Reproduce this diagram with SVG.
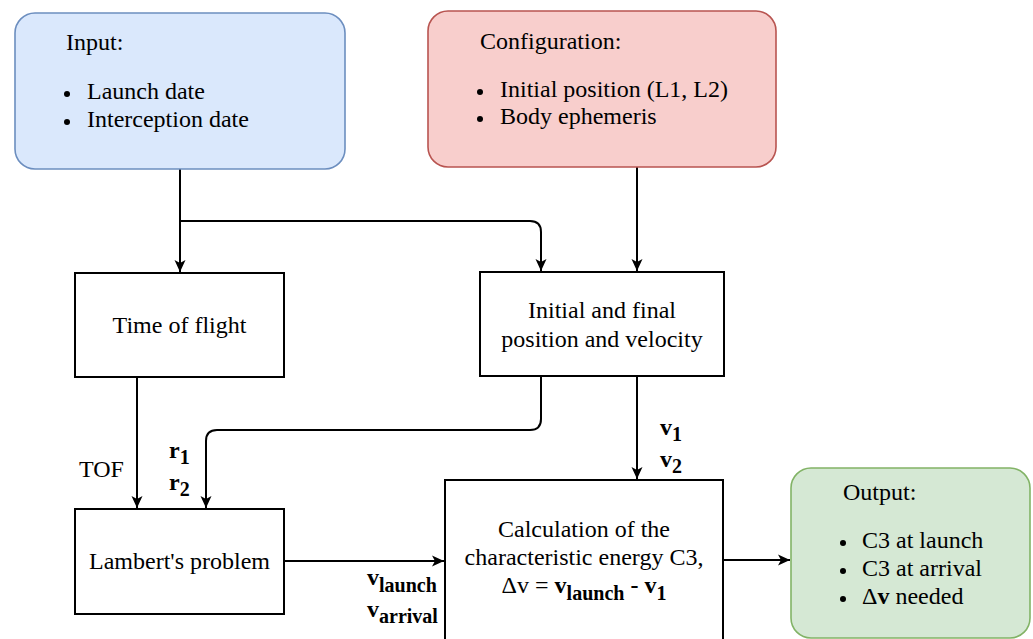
<svg xmlns="http://www.w3.org/2000/svg" width="1033" height="639" viewBox="0 0 1033 639">
<defs>
<style>
text{font-family:"Liberation Serif","Times New Roman",serif;font-size:24px;fill:#000}
.b{font-weight:bold}
.s{font-size:20px;font-weight:bold}
.box{fill:#fff;stroke:#000;stroke-width:2}
.conn{fill:none;stroke:#000;stroke-width:2}
.c{text-anchor:middle}
</style>
<marker id="arr" markerUnits="userSpaceOnUse" markerWidth="14" markerHeight="14" viewBox="0 0 14 14" refX="13" refY="7" orient="auto">
<path d="M1,1.5 L13,7 L1,12.5 L4,7 Z" fill="#000"/>
</marker>
</defs>
<rect width="1033" height="639" fill="#fff"/>

<g id="connectors">
<path class="conn" d="M180,169 V272" marker-end="url(#arr)"/>
<path class="conn" d="M180,221 H530 Q541,221 541,232 V271" marker-end="url(#arr)"/>
<path class="conn" d="M637,167 V271" marker-end="url(#arr)"/>
<path class="conn" d="M137,377 V508" marker-end="url(#arr)"/>
<path class="conn" d="M541,377 V419 Q541,430 530,430 H217 Q206,430 206,441 V508" marker-end="url(#arr)"/>
<path class="conn" d="M637,377 V479" marker-end="url(#arr)"/>
<path class="conn" d="M284,561 H444" marker-end="url(#arr)"/>
<path class="conn" d="M723,560 H790" marker-end="url(#arr)"/>
</g>

<g id="labels">
<text x="79" y="477">TOF</text>
<text x="169" y="458" class="b">r<tspan class="s" dy="6">1</tspan></text>
<text x="169" y="490" class="b">r<tspan class="s" dy="6">2</tspan></text>
<text x="660" y="435" class="b">v<tspan class="s" dy="6">1</tspan></text>
<text x="660" y="467" class="b">v<tspan class="s" dy="6">2</tspan></text>
<text x="367" y="585" class="b">v<tspan class="s" dy="7">launch</tspan></text>
<text x="367" y="617" class="b">v<tspan class="s" dy="6">arrival</tspan></text>
</g>

<g id="input">
<rect x="15" y="13" width="330" height="156" rx="20" fill="#dae8fc" stroke="#6c8ebf" stroke-width="1.6"/>
<text x="66" y="50">Input:</text>
<circle cx="67" cy="94" r="3"/>
<text x="87" y="99">Launch date</text>
<circle cx="67" cy="122" r="3"/>
<text x="87" y="127">Interception date</text>
</g>

<g id="configuration">
<rect x="428" y="11" width="348" height="156" rx="20" fill="#f8cecc" stroke="#b85450" stroke-width="1.6"/>
<text x="480" y="49">Configuration:</text>
<circle cx="480" cy="92" r="3"/>
<text x="500" y="97">Initial position (L1, L2)</text>
<circle cx="480" cy="119" r="3"/>
<text x="500" y="124">Body ephemeris</text>
</g>

<g id="time-of-flight">
<rect class="box" x="75" y="273" width="209" height="104"/>
<text class="c" x="179.5" y="333">Time of flight</text>
</g>

<g id="initial-final">
<rect class="box" x="480" y="272" width="244" height="104"/>
<text class="c" x="602" y="318">Initial and final</text>
<text class="c" x="602" y="347">position and velocity</text>
</g>

<g id="lambert">
<rect class="box" x="75" y="509" width="209" height="105"/>
<text class="c" x="179.5" y="569">Lambert's problem</text>
</g>

<g id="calculation">
<rect class="box" x="445" y="480" width="278" height="200"/>
<text class="c" x="584" y="537">Calculation of the</text>
<text class="c" x="584" y="565">characteristic energy C3,</text>
<text class="c" x="584" y="593">Δv = <tspan class="b">v</tspan><tspan class="s" dy="7">launch</tspan><tspan class="b" dy="-7"> - v</tspan><tspan class="s" dy="7">1</tspan></text>
</g>

<g id="output">
<rect x="791" y="468" width="239" height="170" rx="20" fill="#d5e8d4" stroke="#82b366" stroke-width="1.6"/>
<text x="843" y="500">Output:</text>
<circle cx="843" cy="543" r="3"/>
<text x="862" y="548">C3 at launch</text>
<circle cx="843" cy="571" r="3"/>
<text x="862" y="576">C3 at arrival</text>
<circle cx="843" cy="599" r="3"/>
<text x="862" y="604">Δ<tspan class="b">v</tspan> needed</text>
</g>
</svg>
